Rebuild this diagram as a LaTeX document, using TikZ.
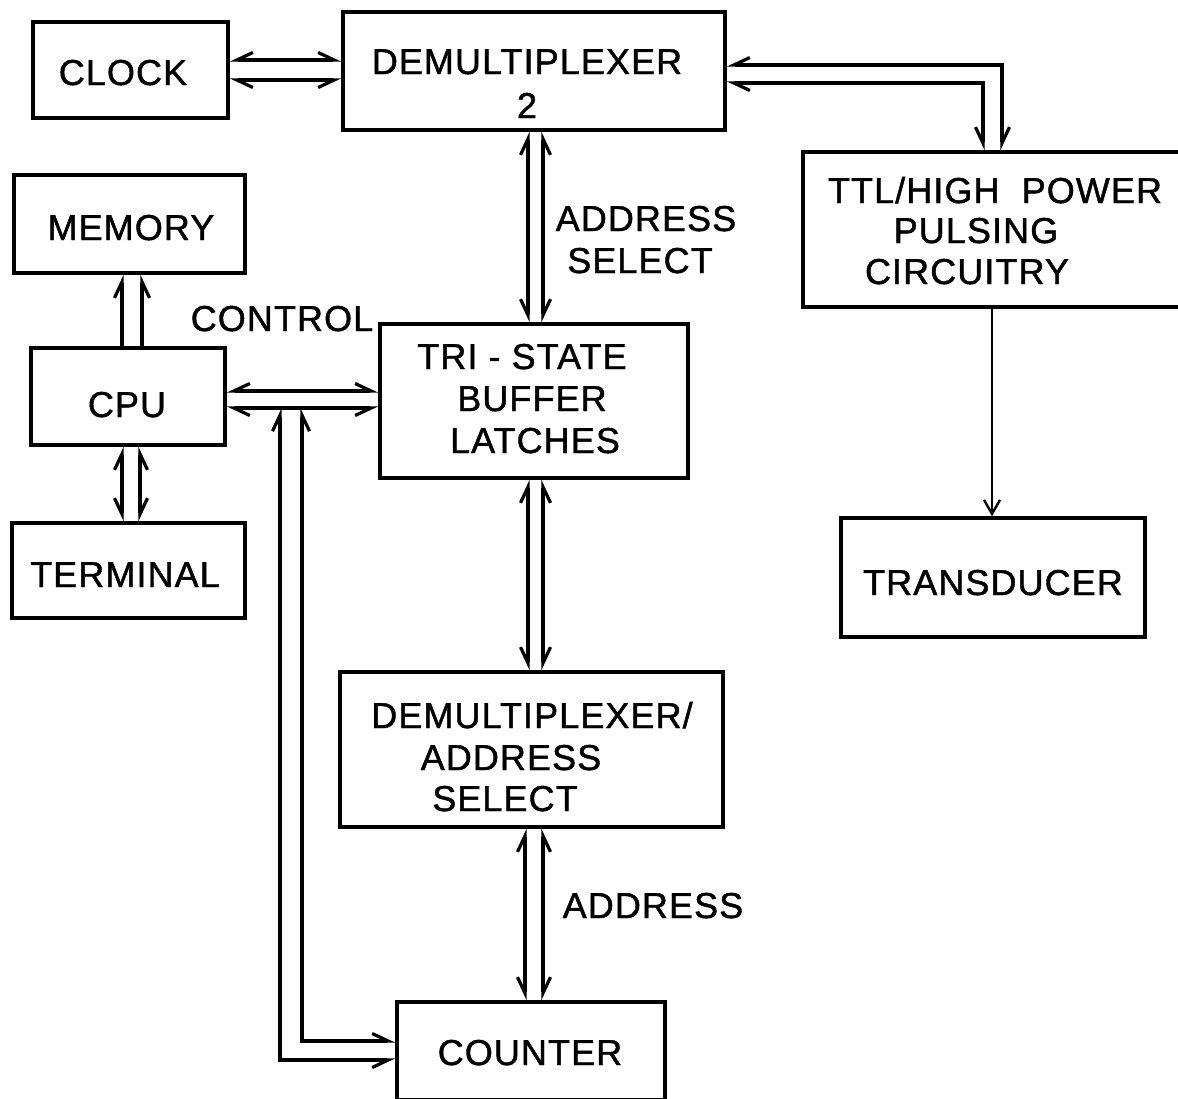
\documentclass[tikz,border=0pt]{standalone}
\usepackage{fontspec}
\setmainfont{Liberation Sans}
\newfontfamily\lettering{Liberation Sans}[FakeBold=1.2,LetterSpace=3]
\usetikzlibrary{arrows.meta,calc}
\tikzset{
  hl/.tip={Straight Barb[harpoon,length=16pt,width=15pt]},
  hr/.tip={Straight Barb[harpoon,swap,length=16pt,width=15pt]},
  fb/.tip={Straight Barb[length=14pt,width=16pt]},
  box/.style={draw,line width=3.4pt,rectangle,inner sep=0pt},
  lbl/.style={anchor=base,inner sep=0pt,font=\lettering\fontsize{36}{40}\selectfont},
  wire/.style={line width=3.2pt},
  barbL/.style={wire,hr-hl},
  barbR/.style={wire,hl-hr},
  endL/.style={wire,-hl},
  endR/.style={wire,-hr},
}
\begin{document}
\begin{tikzpicture}[x=1pt,y=-1pt]
\useasboundingbox (0,0) rectangle (1178,1098);
\clip (0,0) rectangle (1178,1098);

% blocks
\node[box,minimum width=195pt,minimum height=96pt]  (clock)      at (130.5,70)   {};
\node[box,minimum width=382pt,minimum height=118pt] (demuxA)     at (534,71)     {};
\node[box,minimum width=231pt,minimum height=98pt]  (memory)     at (129.5,224)  {};
\node[box,minimum width=194pt,minimum height=97pt]  (cpu)        at (128,396.5)  {};
\node[box,minimum width=233pt,minimum height=95pt]  (terminal)   at (128.5,570.5){};
\node[box,minimum width=308pt,minimum height=154pt] (tri)        at (534,401)    {};
\node[box,minimum width=387pt,minimum height=155pt] (ttl)        at (996.5,229.5){};
\node[box,minimum width=304pt,minimum height=119pt] (transducer) at (993,577.5)  {};
\node[box,minimum width=383pt,minimum height=155pt] (demuxB)     at (531.5,749.5){};
\node[box,minimum width=268pt,minimum height=98pt]  (counter)    at (531,1051)   {};

% block texts
\node[lbl] (clockT)   at (123,85)   {CLOCK};
\node[lbl] (demuxAT1) at (527,74)   {DEMULTIPLEXER};
\node[lbl] (demuxAT2) at (527,118)  {2};
\node[lbl] (memoryT)  at (131,240)  {MEMORY};
\node[lbl] (cpuT)     at (127,417)  {CPU};
\node[lbl] (termT)    at (125,587)  {TERMINAL};
\node[lbl] (triT1)    at (522,369)  {TRI - STATE};
\node[lbl] (triT2)    at (532,411)  {BUFFER};
\node[lbl] (triT3)    at (535,453)  {LATCHES};
\node[lbl] (ttlT1)    at (995,203)  {TTL/HIGH\ \ POWER};
\node[lbl] (ttlT2)    at (976,243)  {PULSING};
\node[lbl] (ttlT3)    at (967,284)  {CIRCUITRY};
\node[lbl] (transT)   at (993,595)  {TRANSDUCER};
\node[lbl] (demuxBT1) at (532,728)  {DEMULTIPLEXER/};
\node[lbl] (demuxBT2) at (511,770)  {ADDRESS};
\node[lbl] (demuxBT3) at (505,811)  {SELECT};
\node[lbl] (counterT) at (530,1065) {COUNTER};

% connector labels
\node[lbl] (ctrlL)  at (282,331) {CONTROL};
\node[lbl] (asel1)  at (646,231) {ADDRESS};
\node[lbl] (asel2)  at (640,273) {SELECT};
\node[lbl] (addrL)  at (653,918) {ADDRESS};

% clock <-> demultiplexer 2
\draw[barbL] ([yshift=10pt]clock.east)  -- ([yshift=10pt]clock.east -| demuxA.west);
\draw[barbR] ([yshift=-10pt]clock.east) -- ([yshift=-10pt]clock.east -| demuxA.west);

% demultiplexer 2 <-> pulsing circuitry
\draw[barbL] ([yshift=6pt]demuxA.east)   -| ([xshift=5.5pt]ttl.north);
\draw[barbR] ([yshift=-12pt]demuxA.east) -| ([xshift=-13.5pt]ttl.north);

% demultiplexer 2 <-> tri-state latches
\draw[barbR] ([xshift=-6pt]demuxA.south) -- ([xshift=-6pt]demuxA.south |- tri.north);
\draw[barbL] ([xshift=9pt]demuxA.south)  -- ([xshift=9pt]demuxA.south |- tri.north);

% tri-state latches <-> demultiplexer / address select
\draw[barbR] ([xshift=-6pt]tri.south) -- ([xshift=-6pt]tri.south |- demuxB.north);
\draw[barbL] ([xshift=9pt]tri.south)  -- ([xshift=9pt]tri.south |- demuxB.north);

% demultiplexer / address select <-> counter
\draw[barbR] ([xshift=-6.5pt]demuxB.south) -- ([xshift=-6.5pt]demuxB.south |- counter.north);
\draw[barbL] ([xshift=11.5pt]demuxB.south) -- ([xshift=11.5pt]demuxB.south |- counter.north);

% cpu <-> tri-state latches (control bus)
\draw[barbL] ([yshift=5.5pt]cpu.east)   -- ([yshift=5.5pt]cpu.east -| tri.west);
\draw[barbR] ([yshift=-11.5pt]cpu.east) -- ([yshift=-11.5pt]cpu.east -| tri.west);

% control bus branch down to the counter
\coordinate (tapO) at (280,408);
\coordinate (tapI) at (302,408);
\draw[barbR] (tapO) |- ([yshift=-9pt]counter.west);
\draw[barbL] (tapI) |- ([yshift=10pt]counter.west);

% cpu -> memory
\draw[endL] ([xshift=-6pt]cpu.north) -- ([xshift=-6pt]cpu.north |- memory.south);
\draw[endR] ([xshift=14pt]cpu.north) -- ([xshift=14pt]cpu.north |- memory.south);

% cpu <-> terminal
\draw[barbR] ([xshift=-6pt]cpu.south) -- ([xshift=-6pt]cpu.south |- terminal.north);
\draw[barbL] ([xshift=12pt]cpu.south) -- ([xshift=12pt]cpu.south |- terminal.north);

% pulsing circuitry -> transducer
\draw[line width=2.4pt,-fb] ([xshift=-4.5pt]ttl.south) -- ([xshift=-4.5pt]ttl.south |- transducer.north);
\end{tikzpicture}
\end{document}
